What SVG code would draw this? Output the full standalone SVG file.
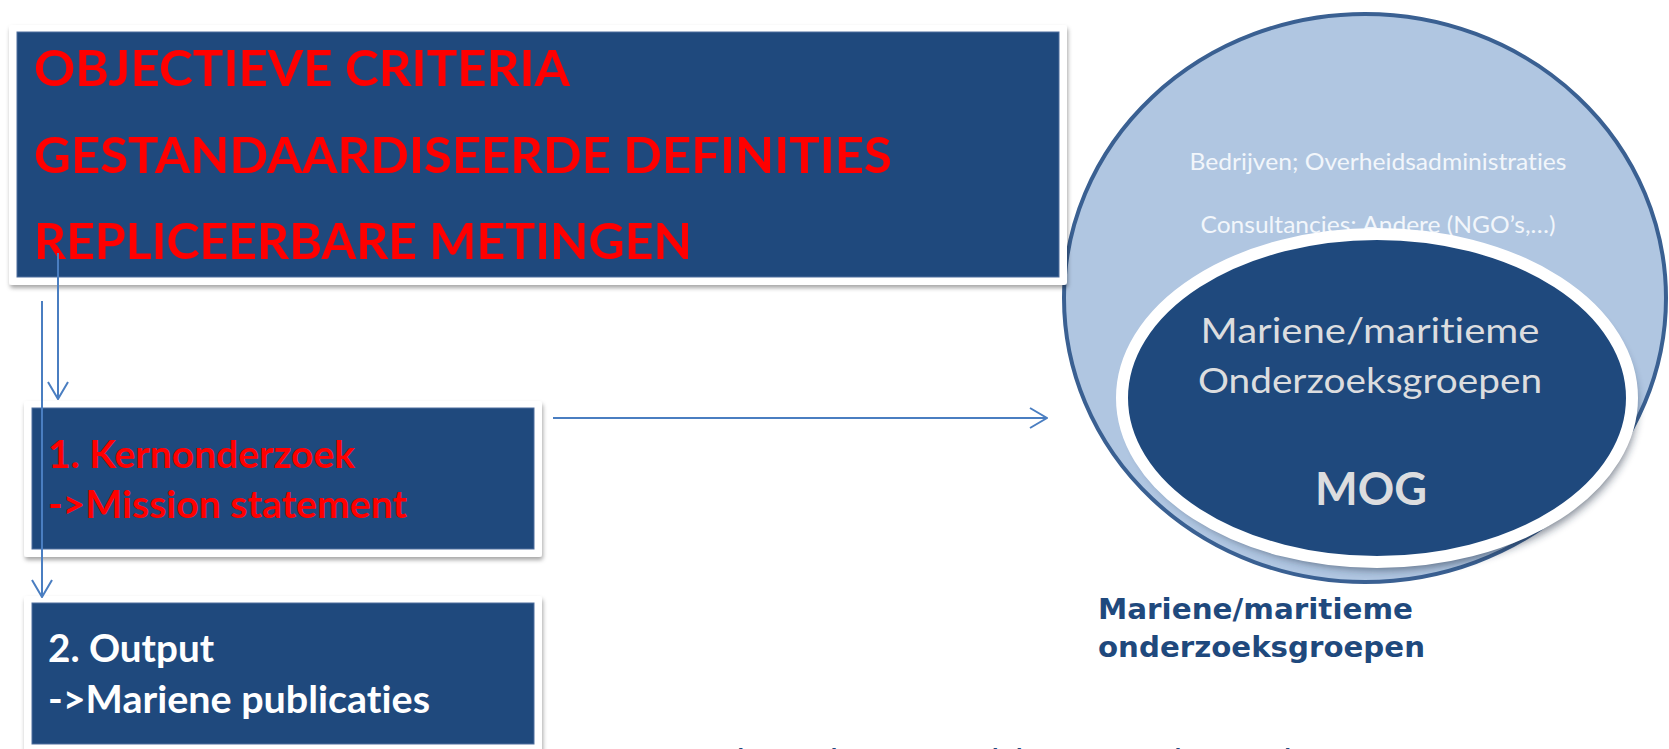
<svg xmlns="http://www.w3.org/2000/svg" width="1669" height="749" viewBox="0 0 1669 749">
<defs>
<style>
.frame{fill:#ffffff;filter:url(#sh)}
.box{fill:#1F497D;stroke:#4E6E9E;stroke-width:1}
.t{font-family:Lato,"Liberation Sans",sans-serif;font-variant-ligatures:none;font-feature-settings:"liga" 0,"clig" 0,"dlig" 0}
.red{fill:#FF0000;font-weight:700}
.wht{fill:#FFFFFF;font-weight:700}
.conn{stroke:#4A7EC1;stroke-width:2;fill:none;marker-end:url(#arr)}
.pale{fill:#F2F6FB;font-size:24px}
.gray{fill:#DCDDDF}
.lbl{font-family:"DejaVu Sans",Verdana,sans-serif;fill:#1F497D}
</style>
<filter id="sh" x="-5%" y="-5%" width="110%" height="120%">
<feDropShadow dx="1" dy="3" stdDeviation="2" flood-color="#000000" flood-opacity="0.35"/>
</filter>
<filter id="blur" x="-10%" y="-10%" width="120%" height="130%">
<feGaussianBlur stdDeviation="4"/>
</filter>
<marker id="arr" markerUnits="userSpaceOnUse" viewBox="0 0 20 22" refX="19" refY="11" markerWidth="20" markerHeight="22" orient="auto">
<path d="M2,1 L19,11 L2,21" fill="none" stroke="#4A7EC1" stroke-width="2"/>
</marker>
</defs>
<rect x="0" y="0" width="1669" height="749" fill="#ffffff"/>

<g id="mog">
<ellipse cx="1365" cy="298" rx="301" ry="284" fill="#B0C6E1" stroke="#3A6092" stroke-width="4"/>
<text class="t pale" x="1378" y="170" text-anchor="middle" textLength="377" lengthAdjust="spacingAndGlyphs">Bedrijven; Overheidsadministraties</text>
<text class="t pale" x="1378" y="233" text-anchor="middle" textLength="355" lengthAdjust="spacingAndGlyphs">Consultancies; Andere (NGO’s,…)</text>
<ellipse cx="1382" cy="406" rx="255" ry="164" fill="#1a2a40" opacity="0.55" filter="url(#blur)"/>
<ellipse cx="1377" cy="398" rx="255" ry="164" fill="#1F497D" stroke="#FFFFFF" stroke-width="12"/>
<text class="t gray" x="1370" y="343" font-size="35" text-anchor="middle" textLength="339" lengthAdjust="spacingAndGlyphs">Mariene/maritieme</text>
<text class="t gray" x="1370" y="393" font-size="35" text-anchor="middle" textLength="344" lengthAdjust="spacingAndGlyphs">Onderzoeksgroepen</text>
<text class="t gray" x="1371" y="505" font-size="45" font-weight="700" text-anchor="middle" textLength="112" lengthAdjust="spacingAndGlyphs">MOG</text>
</g>

<g id="criteria">
<rect class="frame" x="9" y="25" width="1058" height="260" rx="3"/>
<rect class="box" x="17" y="32" width="1042" height="245"/>
<text class="t red" x="34" y="86" font-size="50" textLength="536" lengthAdjust="spacingAndGlyphs">OBJECTIEVE CRITERIA</text>
<text class="t red" x="34" y="173" font-size="50" textLength="858" lengthAdjust="spacingAndGlyphs">GESTANDAARDISEERDE DEFINITIES</text>
<text class="t red" x="34" y="259" font-size="50" textLength="658" lengthAdjust="spacingAndGlyphs">REPLICEERBARE METINGEN</text>
</g>

<g id="kernonderzoek">
<rect class="frame" x="24" y="401" width="518" height="156" rx="3"/>
<rect class="box" x="32" y="408" width="502" height="141"/>
<text class="t red" x="48" y="468" font-size="38" textLength="307" lengthAdjust="spacingAndGlyphs">1. Kernonderzoek</text>
<text class="t red" x="48" y="518" font-size="38" textLength="359" lengthAdjust="spacingAndGlyphs">-&gt;Mission statement</text>
</g>

<g id="output">
<rect class="frame" x="24" y="596" width="518" height="170" rx="3"/>
<rect class="box" x="32" y="603" width="502" height="141"/>
<text class="t wht" x="48" y="662" font-size="38" textLength="166" lengthAdjust="spacingAndGlyphs">2. Output</text>
<text class="t wht" x="48" y="713" font-size="38" textLength="382" lengthAdjust="spacingAndGlyphs">-&gt;Mariene publicaties</text>
</g>

<g id="label">
<text class="lbl" x="1098" y="619" font-size="29" font-weight="700" textLength="315" lengthAdjust="spacingAndGlyphs">Mariene/maritieme</text>
<text class="lbl" x="1098" y="657" font-size="29" font-weight="700" textLength="327" lengthAdjust="spacingAndGlyphs">onderzoeksgroepen</text>
</g>

<g id="bottom-title">
<text class="lbl" x="630" y="775" font-size="36">Aantal mariene/maritieme onderzoeksgroepen</text>
</g>

<g id="connectors">
<line class="conn" x1="58" y1="253" x2="58" y2="399"/>
<line class="conn" x1="42" y1="301" x2="42" y2="597"/>
<line class="conn" x1="553" y1="418" x2="1047" y2="418"/>
</g>
</svg>
